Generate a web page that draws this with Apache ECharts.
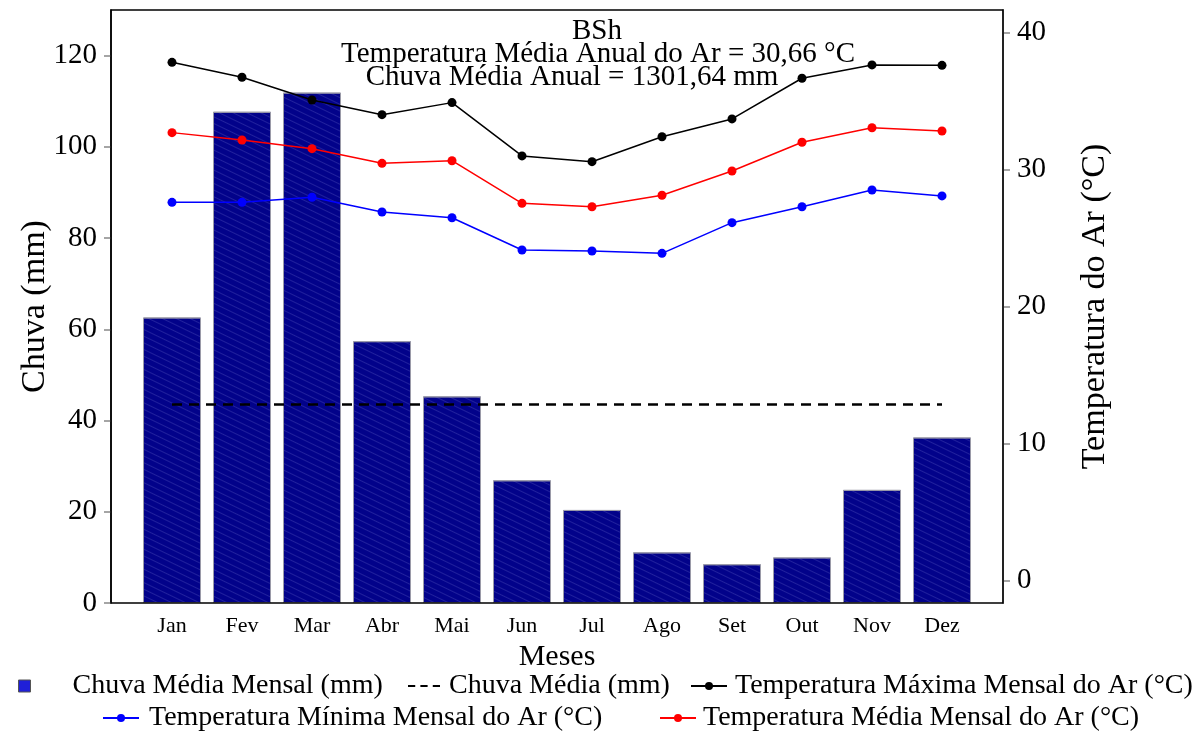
<!DOCTYPE html>
<html>
<head>
<meta charset="utf-8">
<script src="https://cdn.jsdelivr.net/npm/echarts@6/dist/echarts.min.js"></script>
<style>html,body{margin:0;padding:0;background:#fff}#c{width:1204px;height:733px}</style>
</head>
<body>
<div id="c"></div>
<script>
const months = ['Jan','Fev','Mar','Abr','Mai','Jun','Jul','Ago','Set','Out','Nov','Dez'];
const chuva = [62.6, 107.7, 111.9, 57.4, 45.3, 26.9, 20.4, 11.1, 8.5, 10.0, 24.8, 36.3];
const chuvaMedia = [43.5, 43.5, 43.5, 43.5, 43.5, 43.5, 43.5, 43.5, 43.5, 43.5, 43.5, 43.5];
const tMax = [37.82, 36.73, 35.07, 34.00, 34.88, 30.99, 30.57, 32.39, 33.69, 36.66, 37.63, 37.60];
const tMin = [27.60, 27.60, 27.97, 26.90, 26.48, 24.12, 24.05, 23.88, 26.12, 27.28, 28.50, 28.07];
const tMed = [32.69, 32.15, 31.52, 30.45, 30.64, 27.53, 27.28, 28.12, 29.89, 31.99, 33.05, 32.81];
const chuvaTicks = [0, 20, 40, 60, 80, 100, 120];
const tempTicks = [0, 10, 20, 30, 40];
const titleLines = ['BSh', 'Temperatura Média Anual do Ar = 30,66 °C', 'Chuva Média Anual = 1301,64 mm'];

const FONT = 'Liberation Serif';
const names = {
  bar: 'Chuva Média Mensal (mm)',
  mean: 'Chuva Média (mm)',
  max: 'Temperatura Máxima Mensal do Ar (°C)',
  min: 'Temperatura Mínima Mensal do Ar (°C)',
  med: 'Temperatura Média Mensal do Ar (°C)'
};

function leg(name, left, top, w, h, padLeft, icon, extra) {
  const l = {
    data: [icon ? { name: name, icon: icon } : name], left: left, top: top, orient: 'horizontal',
    itemWidth: w, itemHeight: h, selectedMode: false, padding: 0,
    textStyle: { fontFamily: FONT, fontSize: 28, color: '#000', padding: [0, 0, 0, padLeft] }
  };
  if (extra) Object.assign(l, extra);
  return l;
}

const chart = echarts.init(document.getElementById('c'), null, { renderer: 'canvas' });
chart.setOption({
  animation: false,
  backgroundColor: '#fff',
  grid: { left: 137, right: 227, top: 10, bottom: 130 },
  xAxis: {
    type: 'category', data: months,
    axisLine: { show: false }, axisTick: { show: false },
    axisLabel: { fontFamily: FONT, fontSize: 22, color: '#000', margin: 12 },
    name: 'Meses', nameLocation: 'middle', nameGap: 30,
    nameTextStyle: { fontFamily: FONT, fontSize: 30, color: '#000' }
  },
  yAxis: [
    {
      type: 'value', position: 'left', offset: 26, min: 0, max: 130,
      axisLine: { show: true, lineStyle: { color: '#000', width: 1.5 } },
      axisTick: { show: true, length: 7, customValues: chuvaTicks, lineStyle: { color: '#888', width: 1.5 } },
      axisLabel: { customValues: chuvaTicks, fontFamily: FONT, fontSize: 29, color: '#000', margin: 14 },
      splitLine: { show: false },
      name: 'Chuva (mm)', nameLocation: 'middle', nameGap: 59, nameRotate: 90, nameMoveOverlap: false,
      nameTextStyle: { fontFamily: FONT, fontSize: 34, color: '#000' }
    },
    {
      type: 'value', position: 'right', offset: 26, min: -1.64, max: 41.64,
      axisLine: { show: true, lineStyle: { color: '#888', width: 2 } },
      axisTick: { show: true, length: 7, customValues: tempTicks, lineStyle: { color: '#888', width: 1.5 } },
      axisLabel: { customValues: tempTicks, fontFamily: FONT, fontSize: 29, color: '#000', margin: 14 },
      splitLine: { show: false },
      name: 'Temperatura do Ar (°C)', nameLocation: 'middle', nameGap: 75, nameRotate: 90,
      nameTextStyle: { fontFamily: FONT, fontSize: 34, color: '#000' }
    }
  ],
  legend: [
    leg(names.bar, 18, 672, 12, 12, 37, 'rect', { itemStyle: { color: '#1f1fd8', borderColor: '#555', borderWidth: 1, decal: 'none' } }),
    leg(names.mean, 408, 672, 32, 2.5, 4, 'path://M0,0h7v2h-7zM12,0h7v2h-7zM24,0h7v2h-7z', { itemStyle: { color: '#000' } }),
    leg(names.max, 690, 672, 36, 10, 3),
    leg(names.min, 102, 704, 36, 10, 5),
    leg(names.med, 659, 704, 36, 10, 2)
  ],
  series: [
    {
      name: names.bar, type: 'bar', data: chuva, yAxisIndex: 0, barWidth: 58,
      itemStyle: {
        color: '#02028a', borderColor: '#9a9aa8', borderWidth: 1,
        decal: { symbol: 'rect', symbolSize: 1, color: 'rgba(190,190,255,0.16)', dashArrayX: [[1, 0], [1, 0]], dashArrayY: [1, 5], rotation: Math.PI / 7 }
      },
      z: 2
    },
    {
      name: names.mean, type: 'line', data: chuvaMedia, yAxisIndex: 0, symbol: 'none',
      lineStyle: { color: '#000', width: 2.5, type: [10, 7] }, itemStyle: { color: '#000' }, z: 5
    },
    {
      name: names.max, type: 'line', data: tMax, yAxisIndex: 1, symbol: 'circle', symbolSize: 9,
      lineStyle: { color: '#000', width: 1.5 }, itemStyle: { color: '#000' }, z: 6
    },
    {
      name: names.min, type: 'line', data: tMin, yAxisIndex: 1, symbol: 'circle', symbolSize: 9,
      lineStyle: { color: '#0000ff', width: 1.5 }, itemStyle: { color: '#0000ff' }, z: 6
    },
    {
      name: names.med, type: 'line', data: tMed, yAxisIndex: 1, symbol: 'circle', symbolSize: 9,
      lineStyle: { color: '#ff0000', width: 1.5 }, itemStyle: { color: '#ff0000' }, z: 6
    }
  ],
  graphic: [
    { type: 'rect', z: 50, silent: true, shape: { x: 111, y: 10, width: 892, height: 593 },
      style: { fill: 'none', stroke: '#000', lineWidth: 1.5 } },
    { type: 'text', z: 60, x: 597, y: 31, style: { text: titleLines[0], font: '29px "Liberation Serif"', fill: '#000', textAlign: 'center', textVerticalAlign: 'middle' } },
    { type: 'text', z: 60, x: 598, y: 54, style: { text: titleLines[1], font: '29px "Liberation Serif"', fill: '#000', textAlign: 'center', textVerticalAlign: 'middle' } },
    { type: 'text', z: 60, x: 572, y: 77, style: { text: titleLines[2], font: '29px "Liberation Serif"', fill: '#000', textAlign: 'center', textVerticalAlign: 'middle' } }
  ]
});
</script>
</body>
</html>
